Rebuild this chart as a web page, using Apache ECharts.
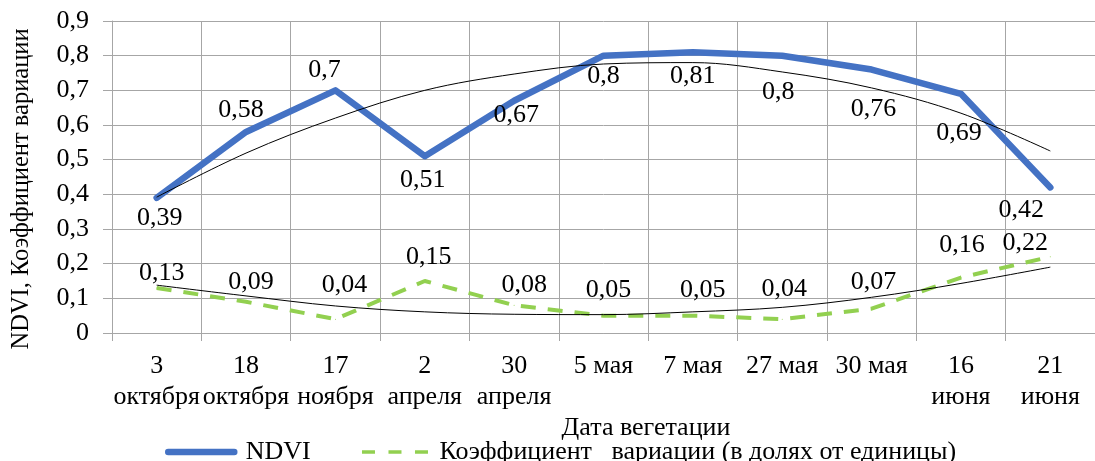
<!DOCTYPE html>
<html>
<head>
<meta charset="utf-8">
<script src="https://cdn.jsdelivr.net/npm/echarts@6/dist/echarts.min.js"></script>
<style>
  html, body { margin: 0; padding: 0; background: #fff; }
  #chart { width: 1095px; height: 461px; }
</style>
</head>
<body>
<div id="chart"></div>
<script>
// Dates of the vegetation survey
const categories = ['3\nоктября', '18\nоктября', '17\nноября', '2\nапреля', '30\nапреля',
  '5 мая', '7 мая', '27 мая', '30 мая', '16\nиюня', '21\nиюня'];
// NDVI per date
const ndvi = [0.39, 0.58, 0.7, 0.51, 0.67, 0.8, 0.81, 0.8, 0.76, 0.69, 0.42];
// Coefficient of variation (fraction of one)
const cv = [0.13, 0.09, 0.04, 0.15, 0.08, 0.05, 0.05, 0.04, 0.07, 0.16, 0.22];
// Polynomial trend values at each date
const ndviTrend = [0.392, 0.519, 0.62, 0.70, 0.747, 0.776, 0.78, 0.753, 0.707, 0.634, 0.525];
const cvTrend = [0.138, 0.107, 0.078, 0.061, 0.054, 0.053, 0.061, 0.074, 0.103, 0.143, 0.19];
// Value axis ticks
const yMin = 0, yMax = 0.9, yStep = 0.1;

const NDVI_NAME = 'NDVI';
const CV_NAME = 'Коэффициент   вариации (в долях от единицы)';

// Label placement relative to each point [dx, dy]
const ndviLabelOffset = [[3, 20], [-5, -22], [-11, -20], [-2, 24], [2, 14], [0, 21], [0, 24], [-4, 37], [2, 40], [-2, 39], [-29, 23]];
const cvLabelOffset = [[5, -15], [5, -20], [9, -34], [4, -24], [10, -20], [5, -25], [10, -25], [2, -30], [2, -27], [1, -32], [-25, -14]];

const FONT = "'Liberation Serif', 'Times New Roman', serif";
const GRID_COLOR = '#a6a6a6';
const BLUE = '#4472c4';
const GREEN = '#92d050';
const fmt = v => String(v).replace('.', ',');

const labelBase = {
  show: true,
  position: 'inside',
  align: 'center',
  verticalAlign: 'middle',
  color: '#000',
  fontFamily: FONT,
  fontSize: 26,
  formatter: p => fmt(p.value)
};

const chart = echarts.init(document.getElementById('chart'), null, { renderer: 'canvas' });
chart.setOption({
  animation: false,
  backgroundColor: '#fff',
  textStyle: { fontFamily: FONT },
  grid: { left: 112, top: 21, width: 995.5, height: 312, containLabel: false },
  xAxis: {
    type: 'category',
    data: categories,
    boundaryGap: true,
    axisLine: { show: true, lineStyle: { color: GRID_COLOR, width: 1 } },
    axisTick: { show: true, interval: 0, length: 8, lineStyle: { color: GRID_COLOR } },
    splitLine: { show: true, interval: 0, lineStyle: { color: GRID_COLOR, width: 1 } },
    axisLabel: { interval: 0, margin: 18, color: '#000', fontFamily: FONT, fontSize: 26, lineHeight: 31 }
  },
  yAxis: {
    type: 'value',
    min: yMin, max: yMax, interval: yStep,
    axisLine: { show: true, lineStyle: { color: GRID_COLOR, width: 1 } },
    axisTick: { show: true, length: 9, lineStyle: { color: GRID_COLOR } },
    splitLine: { show: true, lineStyle: { color: GRID_COLOR, width: 1 } },
    axisLabel: { margin: 23, color: '#000', fontFamily: FONT, fontSize: 26, formatter: v => fmt(+v.toFixed(1)) }
  },
  legend: {
    data: [
      { name: NDVI_NAME, lineStyle: { width: 6.5, cap: 'round' } },
      { name: CV_NAME, lineStyle: { width: 3.5, type: [13, 13.5], cap: 'butt' } }
    ],
    left: 160, top: 434,
    itemWidth: 66, itemHeight: 14, itemGap: 49.5,
    itemStyle: { opacity: 0 },
    formatter: name => ' ' + name,
    textStyle: { color: '#000', fontFamily: FONT, fontSize: 26 }
  },
  graphic: [
    { type: 'text', x: 22, y: 189, rotation: Math.PI / 2,
      style: { text: 'NDVI, Коэффициент вариации', fontFamily: FONT, fontSize: 24.5, fill: '#000',
        align: 'center', verticalAlign: 'middle' } },
    { type: 'text', x: 646, y: 428,
      style: { text: 'Дата вегетации', fontFamily: FONT, fontSize: 26, fill: '#000',
        align: 'center', verticalAlign: 'middle' } }
  ],
  series: [
    {
      name: NDVI_NAME, type: 'line',
      data: ndvi.map((v, i) => ({ value: v, label: { offset: ndviLabelOffset[i] } })),
      symbol: 'circle', symbolSize: 1,
      itemStyle: { color: BLUE },
      lineStyle: { color: BLUE, width: 6.5, cap: 'round', join: 'round' },
      label: labelBase,
      z: 3
    },
    {
      name: CV_NAME, type: 'line',
      data: cv.map((v, i) => ({ value: v, label: { offset: cvLabelOffset[i] } })),
      symbol: 'circle', symbolSize: 1,
      itemStyle: { color: GREEN },
      lineStyle: { color: GREEN, width: 4, type: [15, 12], cap: 'butt' },
      label: labelBase,
      z: 3
    },
    {
      name: 'trend-ndvi', type: 'line', data: ndviTrend, smooth: 0.35,
      symbol: 'none', silent: true,
      lineStyle: { color: '#000', width: 1 }, z: 4
    },
    {
      name: 'trend-cv', type: 'line', data: cvTrend, smooth: 0.35,
      symbol: 'none', silent: true,
      lineStyle: { color: '#000', width: 1 }, z: 4
    }
  ]
});
</script>
</body>
</html>
